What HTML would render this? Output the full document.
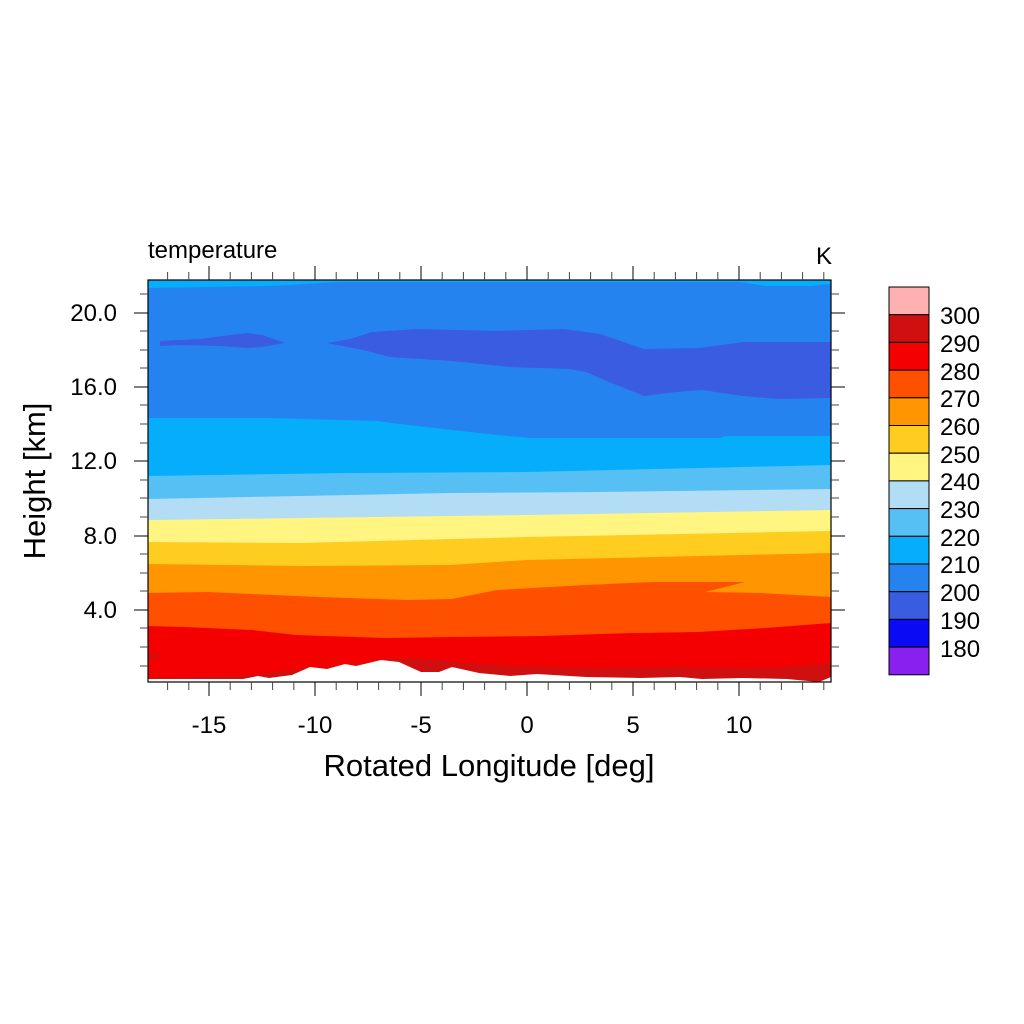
<!DOCTYPE html>
<html><head><meta charset="utf-8"><style>
html,body{margin:0;padding:0;background:#fff}
svg{display:block;font-family:"Liberation Sans",sans-serif}
</style></head><body>
<svg width="1024" height="1024" viewBox="0 0 1024 1024" xmlns="http://www.w3.org/2000/svg">
<defs><clipPath id="c"><rect x="148" y="280" width="683" height="402"/></clipPath></defs>
<g clip-path="url(#c)">
<rect x="148" y="280" width="683" height="402" fill="#05adfa"/>
<polygon fill="#2583f0" points="148,288 269,286 341,282 740,282 765,286 810,286 831,284 831,682 148,682"/>
<polygon fill="#3a5ce0" points="160,341 200,339 230,335 247,333 262,335 285,343 262,347 247,348 220,346 180,345 160,346"/>
<polygon fill="#3a5ce0" points="327,343 350,339 372,332 417,329 497,331 564,329 600,334 644,349 700,348 743,342 831,342 831,398 778,399 743,396 702,390 676,392 644,396 609,382 586,372 569,369 510,367 452,361 390,357 363,350"/>
<polygon fill="#05adfa" points="148,418 269,418 377,421 408,425 497,435 531,438 720,438 725,436 831,436 831,682 148,682"/>
<polygon fill="#56c0f4" points="148,476 350,473 527,472 700,468 831,465 831,682 148,682"/>
<polygon fill="#b3dcf5" points="148,499 300,496 450,493 600,492 831,489 831,682 148,682"/>
<polygon fill="#fff580" points="148,520 300,518 527,515 831,510 831,682 148,682"/>
<polygon fill="#ffcc20" points="148,542 300,543 527,537 831,531 831,682 148,682"/>
<polygon fill="#ff9500" points="148,564 300,566 450,565 527,560 700,556 831,553 831,682 148,682"/>
<polygon fill="#ff5000" points="148,593 207,592 319,597 408,600 452,599 497,590 586,585 653,582 745,582 705,592 760,593 831,597 831,682 148,682"/>
<polygon fill="#f50000" points="148,626 184,627 252,630 296,635 386,638 452,637 542,636 631,633 698,632 765,628 831,623 831,682 148,682"/>
<polygon fill="#d01010" points="148,653 165,656 148,659"/>
<polygon fill="#d01010" points="148,678 252,675 296,670 363,663 390,658 444,660 461,663 542,667 604,668 676,667 743,668 787,667 831,663 831,682 148,682"/>
<polygon fill="#ffffff" points="148,679 243,679 258,676 269,678 292,675 310,667 327,669 345,664 356,666 381,660 399,662 421,672 439,672 452,667 479,673 510,676 537,674 586,677 640,678 680,677 702,679 743,678 787,679 819,682 831,677 831,690 148,690"/>
</g>
<rect x="148" y="280" width="683" height="402" fill="none" stroke="#000" stroke-width="1.2"/>
<g stroke="#000" stroke-width="1">
<path d="M209,682v14M315,682v14M421,682v14M527,682v14M633,682v14M739,682v14M209,280v-14M315,280v-14M421,280v-14M527,280v-14M633,280v-14M739,280v-14"/>
<path stroke="#444" d="M167.6,682v8M188.8,682v8M230.2,682v8M251.4,682v8M272.6,682v8M293.8,682v8M336.2,682v8M357.4,682v8M378.6,682v8M399.8,682v8M442.2,682v8M463.4,682v8M484.6,682v8M505.8,682v8M548.2,682v8M569.4,682v8M590.6,682v8M611.8,682v8M654.2,682v8M675.4,682v8M696.6,682v8M717.8,682v8M760.2,682v8M781.4,682v8M802.6,682v8M823.8,682v8M167.6,280v-8M188.8,280v-8M230.2,280v-8M251.4,280v-8M272.6,280v-8M293.8,280v-8M336.2,280v-8M357.4,280v-8M378.6,280v-8M399.8,280v-8M442.2,280v-8M463.4,280v-8M484.6,280v-8M505.8,280v-8M548.2,280v-8M569.4,280v-8M590.6,280v-8M611.8,280v-8M654.2,280v-8M675.4,280v-8M696.6,280v-8M717.8,280v-8M760.2,280v-8M781.4,280v-8M802.6,280v-8M823.8,280v-8"/>
<path d="M148,313h-14M148,387h-14M148,461h-14M148,536h-14M148,610h-14M831,313h14M831,387h14M831,461h14M831,536h14M831,610h14"/>
<path stroke="#444" d="M148,294h-8M148,331h-8M148,350h-8M148,368h-8M148,405h-8M148,424h-8M148,443h-8M148,480h-8M148,498h-8M148,517h-8M148,554h-8M148,573h-8M148,591h-8M148,628h-8M148,647h-8M148,666h-8M831,294h8M831,331h8M831,350h8M831,368h8M831,405h8M831,424h8M831,443h8M831,480h8M831,498h8M831,517h8M831,554h8M831,573h8M831,591h8M831,628h8M831,647h8M831,666h8"/>
</g>
<g font-size="24" fill="#000">
<g text-anchor="middle">
<text x="209" y="733">-15</text><text x="315" y="733">-10</text><text x="421" y="733">-5</text><text x="527" y="733">0</text><text x="633" y="733">5</text><text x="739" y="733">10</text>
</g>
<g text-anchor="end">
<text x="117" y="321">20.0</text><text x="117" y="395">16.0</text><text x="117" y="469">12.0</text><text x="117" y="544">8.0</text><text x="117" y="618">4.0</text>
</g>
<text x="148" y="258">temperature</text>
<text x="832" y="264" text-anchor="end">K</text>
</g>
<text x="489" y="776" font-size="31" text-anchor="middle">Rotated Longitude [deg]</text>
<text transform="translate(45,481) rotate(-90)" font-size="31" text-anchor="middle">Height [km]</text>
<g stroke="#000" stroke-width="1">
<rect x="889" y="287" width="40" height="27.7" fill="#ffb0b0"/>
<rect x="889" y="314.7" width="40" height="27.7" fill="#d01010"/>
<rect x="889" y="342.4" width="40" height="27.7" fill="#f50000"/>
<rect x="889" y="370.1" width="40" height="27.7" fill="#ff5000"/>
<rect x="889" y="397.8" width="40" height="27.7" fill="#ff9500"/>
<rect x="889" y="425.5" width="40" height="27.7" fill="#ffcc20"/>
<rect x="889" y="453.2" width="40" height="27.7" fill="#fff580"/>
<rect x="889" y="480.9" width="40" height="27.7" fill="#b3dcf5"/>
<rect x="889" y="508.6" width="40" height="27.7" fill="#56c0f4"/>
<rect x="889" y="536.3" width="40" height="27.7" fill="#05adfa"/>
<rect x="889" y="564" width="40" height="27.7" fill="#2583f0"/>
<rect x="889" y="591.7" width="40" height="27.7" fill="#3a5ce0"/>
<rect x="889" y="619.4" width="40" height="27.7" fill="#0a0af5"/>
<rect x="889" y="647.1" width="40" height="27.7" fill="#8a20f0"/>
</g>
<g font-size="24" fill="#000">
<text x="940" y="324">300</text><text x="940" y="352">290</text><text x="940" y="380">280</text><text x="940" y="407">270</text><text x="940" y="435">260</text><text x="940" y="463">250</text><text x="940" y="490">240</text><text x="940" y="518">230</text><text x="940" y="546">220</text><text x="940" y="573">210</text><text x="940" y="601">200</text><text x="940" y="629">190</text><text x="940" y="657">180</text>
</g>
</svg>
</body></html>
